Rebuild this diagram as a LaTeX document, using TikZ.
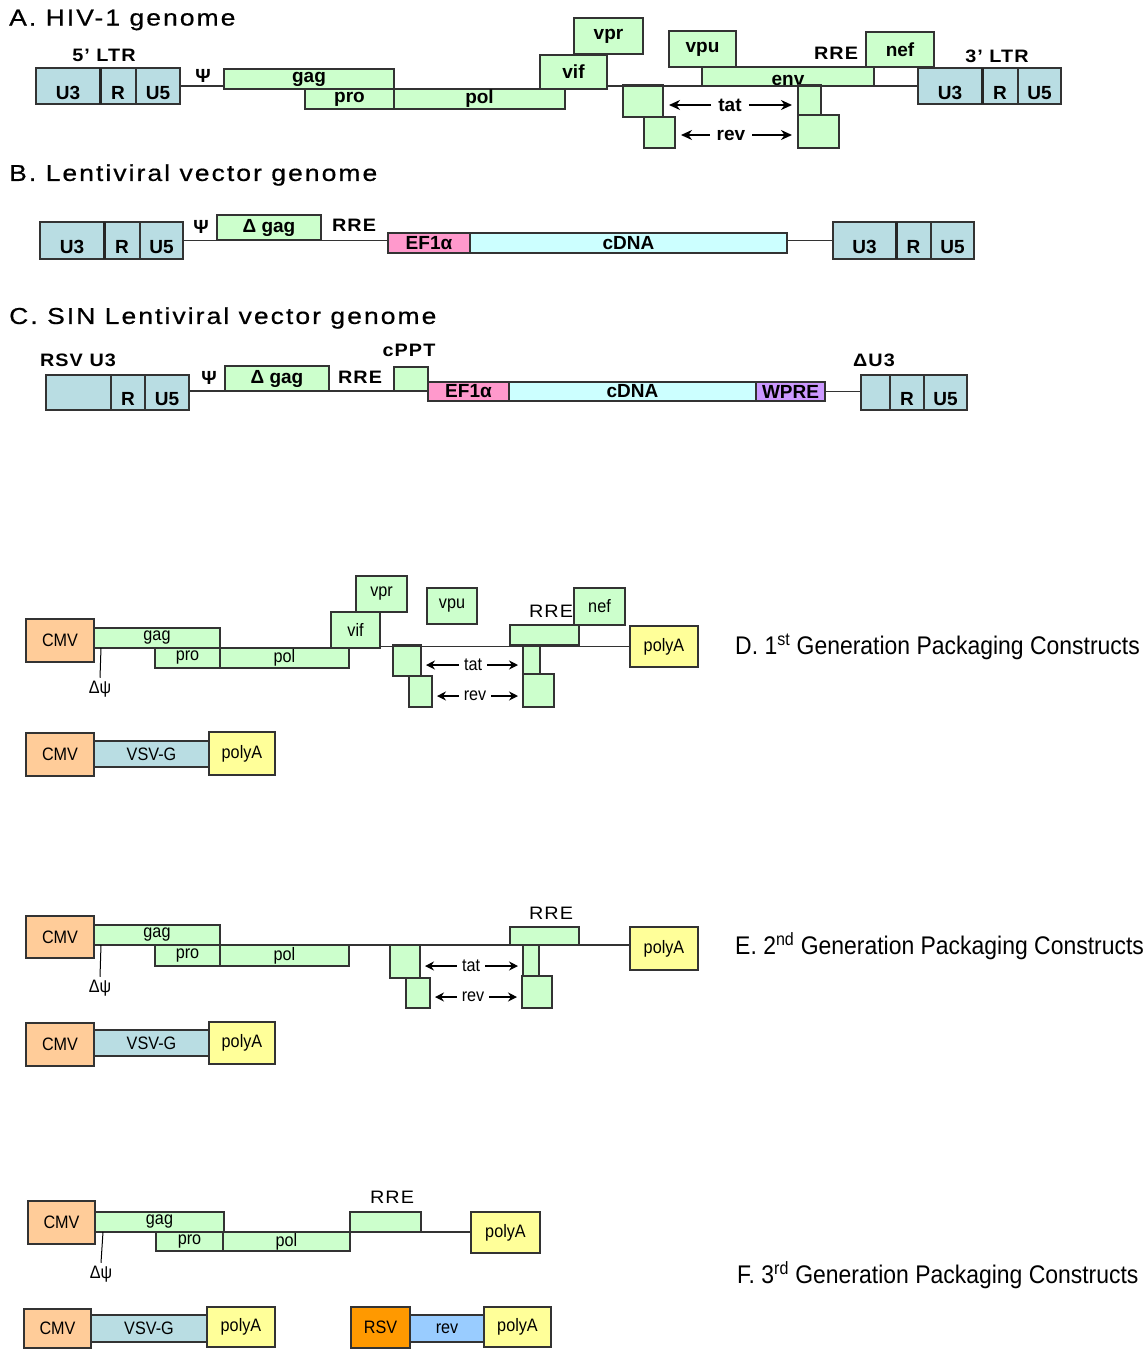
\documentclass[tikz,border=0pt]{standalone}
\usepackage{fontspec}
\setmainfont{Liberation Sans}
\newfontfamily\secfamily[FakeStretch=1.15,LetterSpace=9,FakeBold=0.6]{Liberation Sans}
\newfontfamily\lblfamily[FakeStretch=1.1,LetterSpace=6]{Liberation Sans}
\newfontfamily\narfamily[FakeStretch=0.9]{Liberation Sans}
\usetikzlibrary{arrows.meta}

\definecolor{genegreen}{HTML}{CCFFCC}
\definecolor{ltrblue}{HTML}{B9DDE3}
\definecolor{cmvpeach}{HTML}{FFCC99}
\definecolor{polyyellow}{HTML}{FFFF99}
\definecolor{cdnacyan}{HTML}{CCFFFF}
\definecolor{efpink}{HTML}{FF99CC}
\definecolor{wprepurple}{HTML}{CC99FF}
\definecolor{rsvorange}{HTML}{FF9900}
\definecolor{revblue}{HTML}{99CCFF}

\newcommand\secfont{\secfamily\fontsize{23}{23}\selectfont}
\newcommand\lblfont{\lblfamily\bfseries\fontsize{18}{18}\selectfont}
\newcommand\boxfont{\bfseries\fontsize{19}{19}\selectfont}
\newcommand\pkgfont{\narfamily\fontsize{18}{18}\selectfont}
\newcommand\genfont{\narfamily\fontsize{25.5}{25.5}\selectfont}

% box from (x1,y1) to (x2,y2): name, style, x1, y1, x2, y2, text
\newcommand\seg[7]{%
  \node[#2, minimum width={(#5-#3)*1pt}, minimum height={(#6-#4)*1pt}] (#1)
    at ({(#3+#5)/2},{(#4+#6)/2}) {#7};}

\tikzset{
  part/.style={draw=black!80, line width=1.2pt, inner sep=0pt, outer sep=0pt, font=\boxfont},
  gene/.style={part, fill=genegreen},
  ltr/.style={part, fill=ltrblue, text height=26pt, text depth=0pt},
  ef/.style={part, fill=efpink},
  cdna/.style={part, fill=cdnacyan},
  wpre/.style={part, fill=wprepurple},
  pgene/.style={gene, font=\pkgfont},
  cmv/.style={part, fill=cmvpeach, font=\pkgfont},
  polya/.style={part, fill=polyyellow, font=\pkgfont},
  vsvg/.style={part, fill=ltrblue, font=\pkgfont},
  rsv/.style={part, fill=rsvorange, font=\pkgfont},
  revbox/.style={part, fill=revblue, font=\pkgfont},
  tag/.style={inner sep=0pt, font=\lblfont},
  ptag/.style={inner sep=0pt, font=\lblfamily\fontsize{18}{18}\selectfont},
  psi/.style={inner sep=0pt, font=\boxfont},
  arrlbl/.style={inner sep=0pt, font=\boxfont},
  parrlbl/.style={inner sep=0pt, font=\pkgfont},
  section/.style={anchor=west, inner sep=0pt, font=\secfont},
  gen/.style={anchor=west, inner sep=0pt, font=\genfont},
  backbone/.style={line width=1.2pt, draw=black!80},
  divider/.style={line width=3pt, draw=black!85},
  arr/.style={-{Stealth[length=11pt,width=10pt]}, line width=1.6pt, shorten <=7pt, shorten >=6pt},
  parr/.style={-{Stealth[length=9pt,width=9pt]}, line width=1.3pt, shorten <=5pt, shorten >=5pt}
}

\begin{document}
\begin{tikzpicture}[x=1pt,y=-1pt]
  \useasboundingbox (0,0) rectangle (1146,1349);

  % A. HIV-1 genome
  \node[section] (titleA) at (9,20) {A. HIV-1 genome};
  \node[tag] (ltr5A) at (104,55) {5’ LTR};
  \seg{U3A}{ltr}{36}{68}{100}{104}{U3}
  \seg{RA}{ltr}{100}{68}{136}{104}{R}
  \seg{U5A}{ltr}{136}{68}{180}{104}{U5}
  \draw[divider] (U3A.north east) -- (U3A.south east);
  \node[psi] (psiA) at (203,76) {Ψ};
  \seg{gagA}{gene}{224}{69}{394}{89}{gag}
  \seg{proA}{gene}{305}{89}{394}{109}{pro}
  \seg{polA}{gene}{394}{89}{565}{109}{pol}
  \seg{vifA}{gene}{540}{55}{607}{89}{vif}
  \seg{vprA}{gene}{574}{18}{643}{54}{vpr}
  \seg{vpuA}{gene}{669}{31}{736}{67}{vpu}
  \seg{envA}{gene, text height=17pt, text depth=0pt}{702}{67}{874}{86}{env}
  \seg{nefA}{gene}{866}{32}{934}{67}{nef}
  \node[tag] (rreA) at (836,53) {RRE};
  \seg{tat1A}{gene}{623}{85}{663}{117}{}
  \seg{rev1A}{gene}{644}{117}{675}{148}{}
  \seg{tat2A}{gene}{798}{85}{821}{115}{}
  \seg{rev2A}{gene}{798}{115}{839}{148}{}
  \node[arrlbl] (tatA) at (730,105) {tat};
  \node[arrlbl] (revA) at (731,135) {rev};
  \node[tag] (ltr3A) at (997,56) {3’ LTR};
  \seg{U3bA}{ltr}{918}{68}{982}{104}{U3}
  \seg{RbA}{ltr}{982}{68}{1018}{104}{R}
  \seg{U5bA}{ltr}{1018}{68}{1061}{104}{U5}
  \draw[divider] (U3bA.north east) -- (U3bA.south east);
  \draw[backbone] (U5A.east) -- (gagA.west |- U5A.east);
  \draw[backbone] (vifA.east |- U3bA.west) -- (U3bA.west);
  \draw[arr] (tatA.west) -- (tatA.west -| tat1A.east);
  \draw[arr] (tatA.east) -- (tatA.east -| tat2A.west);
  \draw[arr] (revA.west) -- (revA.west -| rev1A.east);
  \draw[arr] (revA.east) -- (revA.east -| rev2A.west);

  % B. Lentiviral vector genome
  \node[section] (titleB) at (9,175) {B. Lentiviral vector genome};
  \seg{U3B}{ltr}{40}{222}{104}{259}{U3}
  \seg{RB}{ltr}{104}{222}{140}{259}{R}
  \seg{U5B}{ltr}{140}{222}{183}{259}{U5}
  \draw[divider] (U3B.north east) -- (U3B.south east);
  \node[psi] (psiB) at (201,227) {Ψ};
  \seg{dgagB}{gene}{217}{215}{321}{240}{Δ gag}
  \node[tag] (rreB) at (354,225) {RRE};
  \seg{efB}{ef}{388}{233}{470}{253}{EF1α}
  \seg{cdnaB}{cdna}{470}{233}{787}{253}{cDNA}
  \seg{U3bB}{ltr}{833}{222}{896}{259}{U3}
  \seg{RbB}{ltr}{896}{222}{931}{259}{R}
  \seg{U5bB}{ltr}{931}{222}{974}{259}{U5}
  \draw[divider] (U3bB.north east) -- (U3bB.south east);
  \draw[backbone] (U5B.east) -- (efB.west |- U5B.east);
  \draw[backbone] (cdnaB.east |- U3bB.west) -- (U3bB.west);

  % C. SIN Lentiviral vector genome
  \node[section] (titleC) at (9,318) {C. SIN Lentiviral vector genome};
  \node[tag] (rsvC) at (78,360) {RSV U3};
  \seg{U3C}{ltr}{46}{375}{111}{410}{}
  \seg{RC}{ltr}{111}{375}{145}{410}{R}
  \seg{U5C}{ltr}{145}{375}{189}{410}{U5}
  \node[psi] (psiC) at (209,378) {Ψ};
  \seg{dgagC}{gene}{225}{366}{329}{391}{Δ gag}
  \node[tag] (rreC) at (360,377) {RRE};
  \node[tag] (cpptlblC) at (409,350) {cPPT};
  \seg{cpptC}{gene}{394}{367}{428}{391}{}
  \seg{efC}{ef}{428}{382}{509}{401}{EF1α}
  \seg{cdnaC}{cdna}{509}{382}{756}{401}{cDNA}
  \seg{wpreC}{wpre}{756}{382}{825}{401}{WPRE}
  \node[tag] (du3C) at (874,360) {ΔU3};
  \seg{U3bC}{ltr}{861}{375}{890}{410}{}
  \seg{RbC}{ltr}{890}{375}{924}{410}{R}
  \seg{U5bC}{ltr}{924}{375}{967}{410}{U5}
  \draw[backbone] (U5C.east |- cpptC.south) -- (cpptC.south west);
  \draw[backbone] (wpreC.east) -- (wpreC.east -| U3bC.west);

  % D. 1st generation packaging constructs
  \seg{cmvD}{cmv}{26}{619}{94}{662}{CMV}
  \seg{gagD}{pgene}{94}{628}{220}{648}{gag}
  \seg{proD}{pgene}{155}{648}{220}{668}{pro}
  \seg{polD}{pgene}{220}{648}{349}{668}{pol}
  \seg{vifD}{pgene}{331}{612}{380}{648}{vif}
  \seg{vprD}{pgene}{356}{576}{407}{612}{vpr}
  \seg{vpuD}{pgene}{427}{588}{477}{624}{vpu}
  \seg{rreboxD}{pgene}{510}{625}{579}{645}{}
  \seg{nefD}{pgene}{574}{588}{625}{625}{nef}
  \node[ptag] (rreD) at (551,611) {RRE};
  \seg{tat1D}{pgene}{393}{645}{421}{676}{}
  \seg{rev1D}{pgene}{409}{676}{432}{707}{}
  \seg{tat2D}{pgene}{523}{645}{540}{674}{}
  \seg{rev2D}{pgene}{523}{674}{554}{707}{}
  \node[parrlbl] (tatD) at (473,665) {tat};
  \node[parrlbl] (revD) at (475,696) {rev};
  \seg{polyAD}{polya}{630}{626}{698}{667}{polyA}
  \draw[backbone] (vifD.east |- polyAD.west) -- (polyAD.west);
  \draw[parr] (tatD.west) -- (tatD.west -| tat1D.east);
  \draw[parr] (tatD.east) -- (tatD.east -| tat2D.west);
  \draw[parr] (revD.west) -- (revD.west -| rev1D.east);
  \draw[parr] (revD.east) -- (revD.east -| rev2D.west);
  \coordinate (psitopD) at (101,648);
  \node[parrlbl] (dpsiD) at (100,689) {Δψ};
  \draw[line width=1pt] (psitopD) -- ([yshift=3pt]dpsiD.north);
  \node[gen] (textD) at (735,647) {D. 1\textsuperscript{st} Generation Packaging Constructs};
  \seg{cmvD2}{cmv}{26}{733}{94}{776}{CMV}
  \seg{vsvD}{vsvg}{94}{741}{209}{767}{VSV-G}
  \seg{polyAD2}{polya}{209}{732}{275}{775}{polyA}

  % E. 2nd generation packaging constructs
  \seg{cmvE}{cmv}{26}{916}{94}{958}{CMV}
  \seg{gagE}{pgene}{94}{925}{220}{945}{gag}
  \seg{proE}{pgene}{155}{945}{220}{966}{pro}
  \seg{polE}{pgene}{220}{945}{349}{966}{pol}
  \seg{rreboxE}{pgene}{510}{927}{579}{945}{}
  \node[ptag] (rreE) at (551,913) {RRE};
  \seg{tat1E}{pgene}{390}{945}{420}{978}{}
  \seg{rev1E}{pgene}{406}{978}{430}{1008}{}
  \seg{tat2E}{pgene}{523}{945}{539}{976}{}
  \seg{rev2E}{pgene}{522}{976}{552}{1008}{}
  \node[parrlbl] (tatE) at (471,966) {tat};
  \node[parrlbl] (revE) at (473,997) {rev};
  \seg{polyAE}{polya}{630}{927}{698}{970}{polyA}
  \draw[backbone] (gagE.south east) -- (gagE.south east -| polyAE.west);
  \draw[parr] (tatE.west) -- (tatE.west -| tat1E.east);
  \draw[parr] (tatE.east) -- (tatE.east -| tat2E.west);
  \draw[parr] (revE.west) -- (revE.west -| rev1E.east);
  \draw[parr] (revE.east) -- (revE.east -| rev2E.west);
  \coordinate (psitopE) at (101,945);
  \node[parrlbl] (dpsiE) at (100,988) {Δψ};
  \draw[line width=1pt] (psitopE) -- ([yshift=3pt]dpsiE.north);
  \node[gen] (textE) at (735,946) {E. 2\textsuperscript{nd} Generation Packaging Constructs};
  \seg{cmvE2}{cmv}{26}{1023}{94}{1066}{CMV}
  \seg{vsvE}{vsvg}{94}{1030}{209}{1056}{VSV-G}
  \seg{polyAE2}{polya}{209}{1022}{275}{1064}{polyA}

  % F. 3rd generation packaging constructs
  \seg{cmvF}{cmv}{28}{1201}{95}{1244}{CMV}
  \seg{gagF}{pgene}{95}{1212}{224}{1232}{gag}
  \seg{proF}{pgene}{156}{1232}{223}{1251}{pro}
  \seg{polF}{pgene}{223}{1232}{350}{1251}{pol}
  \seg{rreboxF}{pgene}{350}{1212}{421}{1232}{}
  \node[ptag] (rreF) at (392,1197) {RRE};
  \seg{polyAF}{polya}{471}{1212}{540}{1253}{polyA}
  \draw[backbone] (rreboxF.south east) -- (rreboxF.south east -| polyAF.west);
  \coordinate (psitopF) at (103,1232);
  \node[parrlbl] (dpsiF) at (101,1274) {Δψ};
  \draw[line width=1pt] (psitopF) -- ([yshift=3pt]dpsiF.north);
  \node[gen] (textF) at (737,1275) {F. 3\textsuperscript{rd} Generation Packaging Constructs};
  \seg{cmvF2}{cmv}{24}{1309}{91}{1348}{CMV}
  \seg{vsvF}{vsvg}{91}{1315}{207}{1342}{VSV-G}
  \seg{polyAF2}{polya}{207}{1307}{275}{1347}{polyA}
  \seg{rsvF}{rsv}{351}{1307}{410}{1348}{RSV}
  \seg{revF}{revbox}{410}{1315}{484}{1342}{rev}
  \seg{polyAF3}{polya}{484}{1307}{551}{1347}{polyA}
\end{tikzpicture}
\end{document}
